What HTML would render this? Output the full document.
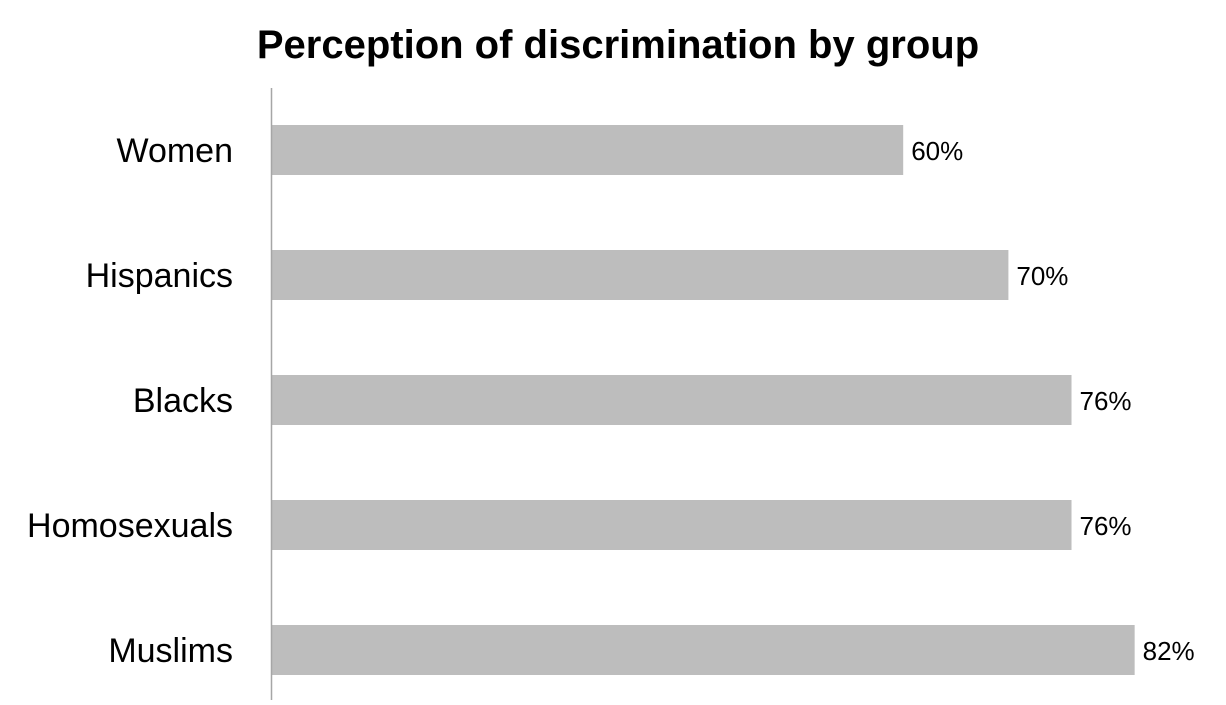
<!DOCTYPE html>
<html><head><meta charset="utf-8"><style>
body{margin:0;background:#fff;}
svg text{font-family:"Liberation Sans",sans-serif;}
</style></head><body>
<svg width="1226" height="700" viewBox="0 0 1226 700">
<text x="618" y="58" text-anchor="middle" font-size="40" font-weight="bold" fill="#000">Perception of discrimination by group</text>
<g id="bars"></g>
<line x1="271.5" y1="88" x2="271.5" y2="700" stroke="#a6a6a6" stroke-width="1.5"/>
</svg>
<script>
const categories = ["Women","Hispanics","Blacks","Homosexuals","Muslims"];
const values = [60,70,76,76,82];
const valueLabels = ["60%","70%","76%","76%","82%"];
const x0 = 272, pxPerUnit = 10.52;
function xScale(v){return x0 + v*pxPerUnit;}
function yScale(i){return 125 + i*125;}
const ns="http://www.w3.org/2000/svg";
const g=document.getElementById('bars');
categories.forEach((c,i)=>{
  const y=yScale(i);
  const r=document.createElementNS(ns,'rect');
  r.setAttribute('x',x0);r.setAttribute('y',y);
  r.setAttribute('width',xScale(values[i])-x0);r.setAttribute('height',50);
  r.setAttribute('fill','#bdbdbd');
  
  
  g.appendChild(r);
  const t=document.createElementNS(ns,'text');
  t.setAttribute('x',233);t.setAttribute('y',y+37);
  t.setAttribute('text-anchor','end');t.setAttribute('font-size','34');t.setAttribute('fill','#000');
  t.textContent=c;
  
  
  g.appendChild(t);
  const v=document.createElementNS(ns,'text');
  v.setAttribute('x',xScale(values[i])+8);v.setAttribute('y',y+35);
  v.setAttribute('font-size','26');v.setAttribute('fill','#000');
  v.textContent=valueLabels[i];
  
  
  g.appendChild(v);
});
</script>
</body></html>
